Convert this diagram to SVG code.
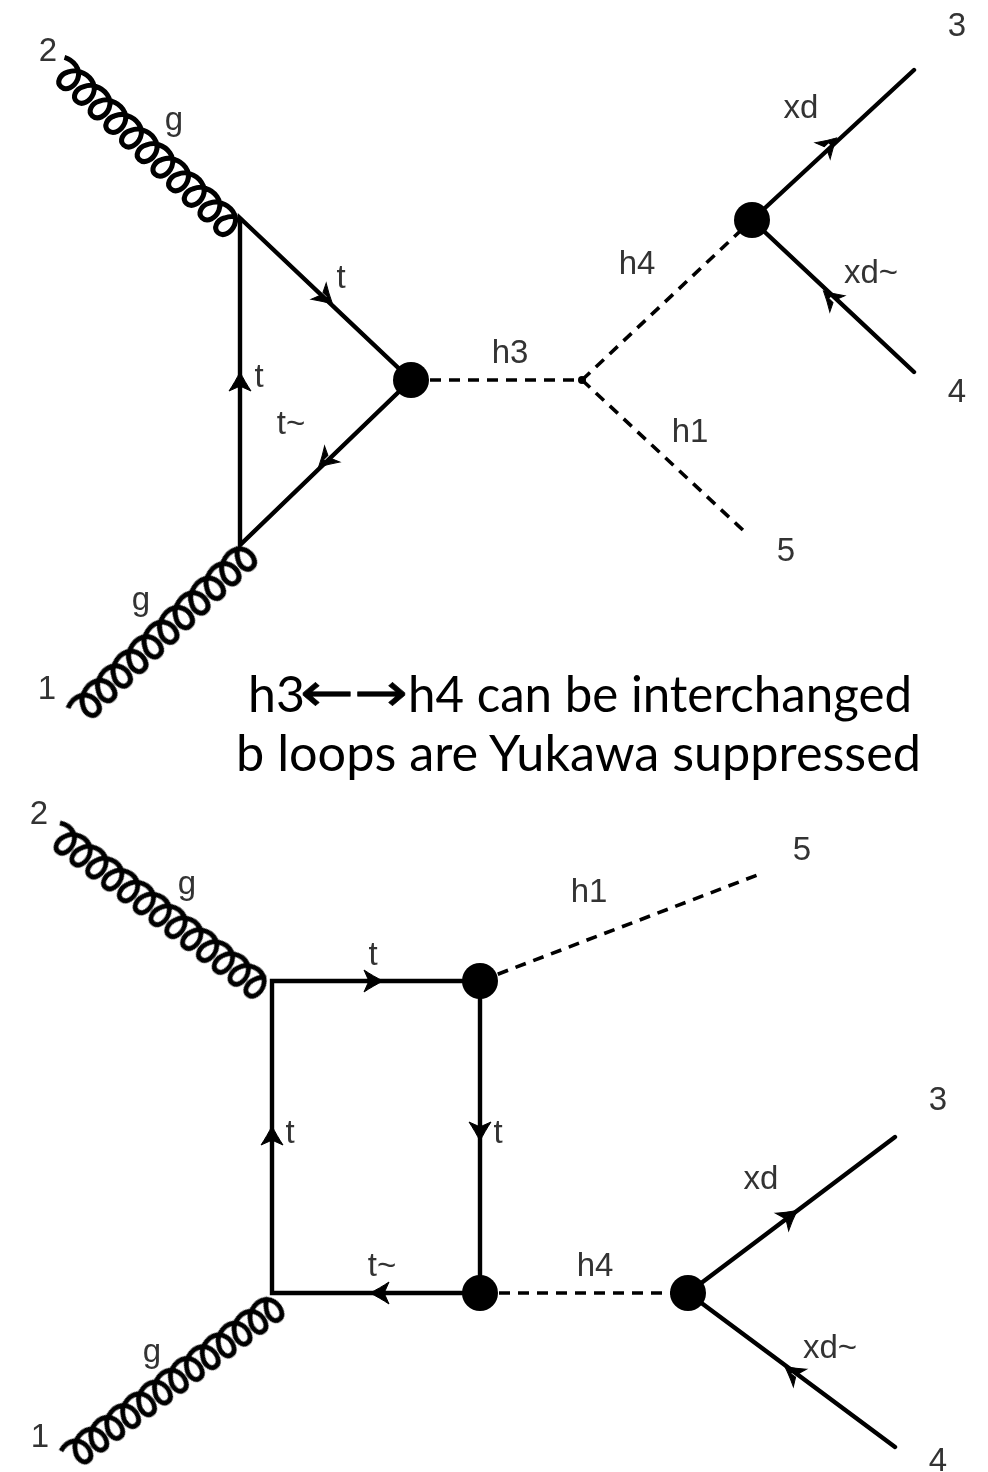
<svg xmlns="http://www.w3.org/2000/svg" width="988" height="1472" viewBox="0 0 988 1472">
<style>
.l{font-family:"Liberation Sans",Arial,sans-serif;font-size:33px;fill:#333;text-anchor:middle}
.c{font-family:Lato,"Open Sans",sans-serif;font-size:50px;fill:#000}
.ar{font-family:"DejaVu Sans",sans-serif;font-size:54px;fill:#000;stroke:#000;stroke-width:.6}
.s{stroke:#000;stroke-width:4.4;fill:none;stroke-linecap:round}
.d{stroke:#000;stroke-width:3.6;fill:none;stroke-dasharray:11 8}
.g{stroke:#000;stroke-width:5;fill:none}
</style>
<defs>
<path id="coil" d="M0,0
c8,-4 20,-3 24,7c3,8 0,17 -7,17c-6,0 -9,-8 -5,-15c2,-4 5,-8 9,-9
c8,-4 20,-3 24,7c3,8 0,17 -7,17c-6,0 -9,-8 -5,-15c2,-4 5,-8 9,-9
c8,-4 20,-3 24,7c3,8 0,17 -7,17c-6,0 -9,-8 -5,-15c2,-4 5,-8 9,-9
c8,-4 20,-3 24,7c3,8 0,17 -7,17c-6,0 -9,-8 -5,-15c2,-4 5,-8 9,-9
c8,-4 20,-3 24,7c3,8 0,17 -7,17c-6,0 -9,-8 -5,-15c2,-4 5,-8 9,-9
c8,-4 20,-3 24,7c3,8 0,17 -7,17c-6,0 -9,-8 -5,-15c2,-4 5,-8 9,-9
c8,-4 20,-3 24,7c3,8 0,17 -7,17c-6,0 -9,-8 -5,-15c2,-4 5,-8 9,-9
c8,-4 20,-3 24,7c3,8 0,17 -7,17c-6,0 -9,-8 -5,-15c2,-4 5,-8 9,-9
c8,-4 20,-3 24,7c3,8 0,17 -7,17c-6,0 -9,-8 -5,-15c2,-4 5,-8 9,-9
c8,-4 20,-3 24,7c3,8 0,17 -7,17c-6,0 -9,-8 -5,-15c2,-4 5,-8 9,-9
c8,-4 20,-3 24,7c3,8 0,17 -7,17c-6,0 -9,-8 -5,-15c2,-4 5,-8 9,-9"/>
<path id="coil13" d="M0,0
c8,-4 20,-3 24,7c3,8 0,17 -7,17c-6,0 -9,-8 -5,-15c2,-4 5,-8 9,-9
c8,-4 20,-3 24,7c3,8 0,17 -7,17c-6,0 -9,-8 -5,-15c2,-4 5,-8 9,-9
c8,-4 20,-3 24,7c3,8 0,17 -7,17c-6,0 -9,-8 -5,-15c2,-4 5,-8 9,-9
c8,-4 20,-3 24,7c3,8 0,17 -7,17c-6,0 -9,-8 -5,-15c2,-4 5,-8 9,-9
c8,-4 20,-3 24,7c3,8 0,17 -7,17c-6,0 -9,-8 -5,-15c2,-4 5,-8 9,-9
c8,-4 20,-3 24,7c3,8 0,17 -7,17c-6,0 -9,-8 -5,-15c2,-4 5,-8 9,-9
c8,-4 20,-3 24,7c3,8 0,17 -7,17c-6,0 -9,-8 -5,-15c2,-4 5,-8 9,-9
c8,-4 20,-3 24,7c3,8 0,17 -7,17c-6,0 -9,-8 -5,-15c2,-4 5,-8 9,-9
c8,-4 20,-3 24,7c3,8 0,17 -7,17c-6,0 -9,-8 -5,-15c2,-4 5,-8 9,-9
c8,-4 20,-3 24,7c3,8 0,17 -7,17c-6,0 -9,-8 -5,-15c2,-4 5,-8 9,-9
c8,-4 20,-3 24,7c3,8 0,17 -7,17c-6,0 -9,-8 -5,-15c2,-4 5,-8 9,-9
c8,-4 20,-3 24,7c3,8 0,17 -7,17c-6,0 -9,-8 -5,-15c2,-4 5,-8 9,-9
c8,-4 20,-3 24,7c3,8 0,17 -7,17c-6,0 -9,-8 -5,-15c2,-4 5,-8 9,-9"/>
<path id="a" d="M9,0C3,-3 -4,-7 -10,-11L-6,-2H0V2H-6L-10,11C-4,7 3,3 9,0Z" fill="#000" stroke="#000" stroke-width="1"/>
<filter id="b" x="-5%" y="-5%" width="110%" height="110%"><feGaussianBlur stdDeviation="0.6"/></filter>
</defs>
<rect width="988" height="1472" fill="#fff"/>
<g id="connectors" filter="url(#b)">
<g id="top-connectors">
<use href="#coil" class="g" transform="translate(64.5,57.3) rotate(42.9) scale(1.02,1)"/>
<use href="#coil" class="g" transform="translate(68,708) rotate(-43.3) scale(1.015,1)"/>
<path class="s" d="M240,218L411,380L240,545Z"/>
<path class="d" d="M411,380H582L752,220M582,380L745,532"/>
<path class="s" d="M752,220L914,70M752,220L914,372"/>
<use href="#a" transform="translate(326,298) rotate(43)"/>
<use href="#a" transform="translate(240,381) rotate(-90)"/>
<use href="#a" transform="translate(325,461) rotate(136)"/>
<use href="#a" transform="translate(830,144) rotate(-43)"/>
<use href="#a" transform="translate(830,297) rotate(-137)"/>
</g>
<g id="bottom-connectors">
<use href="#coil13" class="g" transform="translate(60,823) rotate(37) scale(.943,1)"/>
<use href="#coil13" class="g" transform="translate(61,1451) rotate(-36.5) scale(.943,1)"/>
<path class="s" d="M272,981H480V1293H272Z"/>
<path class="d" d="M480,981L760,874M480,1293H688"/>
<path class="s" d="M688,1293L895,1137M688,1293L895,1447"/>
<use href="#a" transform="translate(374,981)"/>
<use href="#a" transform="translate(272,1135) rotate(-90)"/>
<use href="#a" transform="translate(480,1132) rotate(90)"/>
<use href="#a" transform="translate(379,1293) rotate(180)"/>
<use href="#a" transform="translate(790,1216) rotate(-37)"/>
<use href="#a" transform="translate(792,1372) rotate(-143)"/>
</g>
</g>
<g id="v-top-1" filter="url(#b)"><circle cx="411" cy="380" r="18"/></g>
<g id="v-top-2" filter="url(#b)"><circle cx="752" cy="220" r="18"/></g>
<g id="v-top-3"><circle cx="582" cy="380" r="4"/></g>
<g id="v-bot-1" filter="url(#b)"><circle cx="480" cy="981" r="18"/></g>
<g id="v-bot-2" filter="url(#b)"><circle cx="480" cy="1293" r="18"/></g>
<g id="v-bot-3" filter="url(#b)"><circle cx="688" cy="1293" r="18"/></g>
<g id="labels-top">
<text class="l" x="48" y="61">2</text>
<text class="l" x="174" y="130">g</text>
<text class="l" x="957" y="36">3</text>
<text class="l" x="801" y="118">xd</text>
<text class="l" x="637" y="274">h4</text>
<text class="l" x="871" y="283">xd~</text>
<text class="l" x="341" y="288">t</text>
<text class="l" x="259" y="387">t</text>
<text class="l" x="510" y="363">h3</text>
<text class="l" x="957" y="402">4</text>
<text class="l" x="291" y="434">t~</text>
<text class="l" x="690" y="442">h1</text>
<text class="l" x="786" y="561">5</text>
<text class="l" x="141" y="610">g</text>
<text class="l" x="47" y="699">1</text>
</g>
<g id="caption">
<text class="c" x="248" y="712">h3</text>
<text class="ar" x="300" y="711" textLength="108" lengthAdjust="spacingAndGlyphs">←→</text>
<text class="c" x="408" y="712" textLength="504" lengthAdjust="spacingAndGlyphs">h4 can be interchanged</text>
<text class="c" x="236" y="771" textLength="685" lengthAdjust="spacingAndGlyphs">b loops are Yukawa suppressed</text>
</g>
<g id="labels-bottom">
<text class="l" x="39" y="824">2</text>
<text class="l" x="802" y="860">5</text>
<text class="l" x="187" y="894">g</text>
<text class="l" x="589" y="902">h1</text>
<text class="l" x="373" y="965">t</text>
<text class="l" x="938" y="1110">3</text>
<text class="l" x="290" y="1143">t</text>
<text class="l" x="498" y="1143">t</text>
<text class="l" x="761" y="1189">xd</text>
<text class="l" x="382" y="1276">t~</text>
<text class="l" x="595" y="1276">h4</text>
<text class="l" x="830" y="1358">xd~</text>
<text class="l" x="152" y="1362">g</text>
<text class="l" x="40" y="1447">1</text>
<text class="l" x="938" y="1471">4</text>
</g>
</svg>
